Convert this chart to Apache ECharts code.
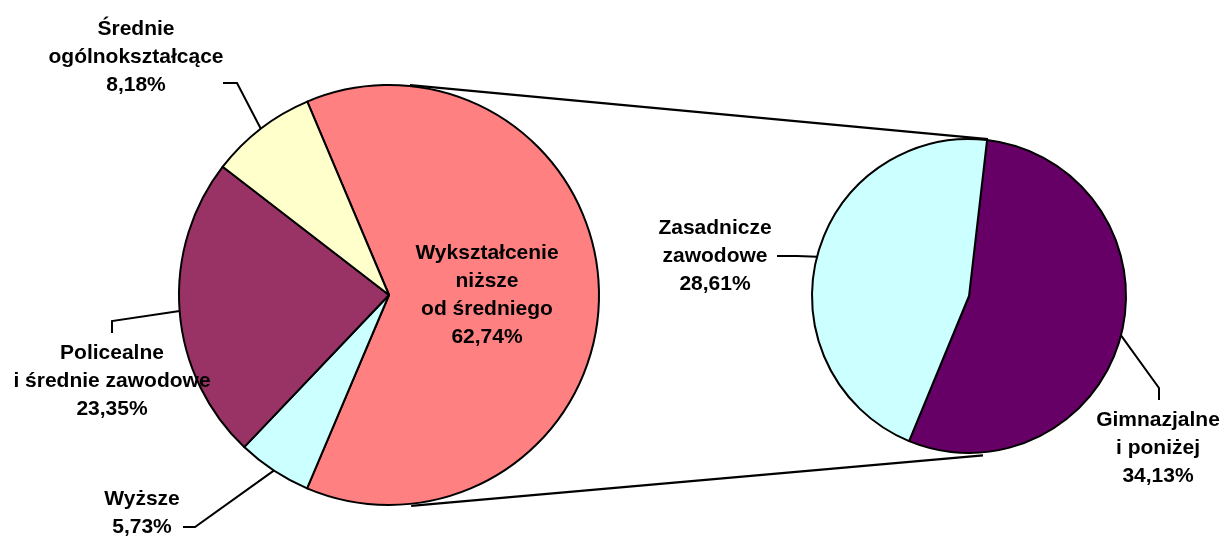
<!DOCTYPE html>
<html>
<head>
<meta charset="utf-8">
<style>
  html, body { margin: 0; padding: 0; background: #fff; }
  #chart { width: 1227px; height: 536px; }
</style>
<script src="https://cdn.jsdelivr.net/npm/echarts@6/dist/echarts.min.js"></script>
</head>
<body>
<div id="chart"></div>
<script>
// pie glowny (udzial w %)
var mainCategories = ['Wykształcenie\nniższe\nod średniego', 'Wyższe', 'Policealne\ni średnie zawodowe', 'Średnie\nogólnokształcące'];
var mainValues = [62.74, 5.73, 23.35, 8.18];
// rozbicie "niższe od średniego"
var splitCategories = ['Gimnazjalne\ni poniżej', 'Zasadnicze\nzawodowe'];
var splitValues = [34.13, 28.61];

var mainColors = ['#FF8080', '#CCFFFF', '#993366', '#FFFFCC'];
var splitColors = ['#660066', '#CCFFFF'];

// geometria
var leftPie = { cx: 389, cy: 295, r: 210, start: 112.9 };
var rightPie = { cx: 969, cy: 296, r: 157, start: 83.4 };

// polozenie etykiet i zalamania linii odniesienia
var mainLabelPos = [
    { x: 487, y: 295 },
    { x: 142, y: 513, line: [[195, 527], [183, 527]] },
    { x: 112, y: 381, line: [[112, 321], [112, 333]] },
    { x: 136, y: 57, line: [[237, 83], [223, 83]] }
];
var splitLabelPos = [
    { x: 1158, y: 448, line: [[1159, 388], [1159, 400]] },
    { x: 715, y: 256, line: [[797, 256], [777, 256]] }
];

function fmt(v) {
    return v.toFixed(2).replace('.', ',') + '%';
}

var labelStyle = {
    fontFamily: 'Liberation Sans, Arial, sans-serif',
    fontWeight: 'bold',
    fontSize: 21,
    lineHeight: 28,
    color: '#000',
    align: 'center',
    formatter: function (p) { return p.name + '\n' + fmt(p.value); }
};

function layoutFor(table) {
    return function (params) {
        var pos = table[params.dataIndex];
        var out = { x: pos.x, y: pos.y, align: 'center', verticalAlign: 'middle' };
        if (pos.line && params.labelLinePoints) {
            out.labelLinePoints = [params.labelLinePoints[0], pos.line[0], pos.line[1]];
        }
        return out;
    };
}

function ptOn(p, deg, extra) {
    var a = deg * Math.PI / 180;
    var rr = p.r + (extra || 0);
    return [p.cx + rr * Math.sin(a), p.cy - rr * Math.cos(a)];
}

var chart = echarts.init(document.getElementById('chart'));

var mainData = mainCategories.map(function (n, i) {
    var item = { name: n, value: mainValues[i], itemStyle: { color: mainColors[i] } };
    if (i === 0) {
        item.label = { position: 'inside' };
        item.labelLine = { show: false };
    }
    return item;
});
var splitData = splitCategories.map(function (n, i) {
    return { name: n, value: splitValues[i], itemStyle: { color: splitColors[i] } };
});

var pieBase = {
    type: 'pie',
    clockwise: true,
    avoidLabelOverlap: false,
    silent: true,
    itemStyle: { borderColor: '#000', borderWidth: 2 },
    label: labelStyle,
    labelLine: { show: true, length: 10, length2: 10, lineStyle: { color: '#000', width: 2 } },
    emphasis: { disabled: true }
};

var t1 = ptOn(leftPie, 5.7, 1), t2 = ptOn(rightPie, 6.9, 1);
var b1 = ptOn(leftPie, 174, 2), b2 = ptOn(rightPie, 175, 3);

chart.setOption({
    animation: false,
    backgroundColor: '#fff',
    series: [
        Object.assign({}, pieBase, {
            center: [leftPie.cx, leftPie.cy],
            radius: leftPie.r,
            startAngle: leftPie.start,
            labelLayout: layoutFor(mainLabelPos),
            data: mainData
        }),
        Object.assign({}, pieBase, {
            center: [rightPie.cx, rightPie.cy],
            radius: rightPie.r,
            startAngle: rightPie.start,
            labelLayout: layoutFor(splitLabelPos),
            data: splitData
        })
    ],
    graphic: [
        { type: 'line', z: 10, shape: { x1: t1[0], y1: t1[1], x2: t2[0], y2: t2[1] }, style: { stroke: '#000', lineWidth: 2.2 } },
        { type: 'line', z: 10, shape: { x1: b1[0], y1: b1[1], x2: b2[0], y2: b2[1] }, style: { stroke: '#000', lineWidth: 2.2 } }
    ]
});
</script>
</body>
</html>
